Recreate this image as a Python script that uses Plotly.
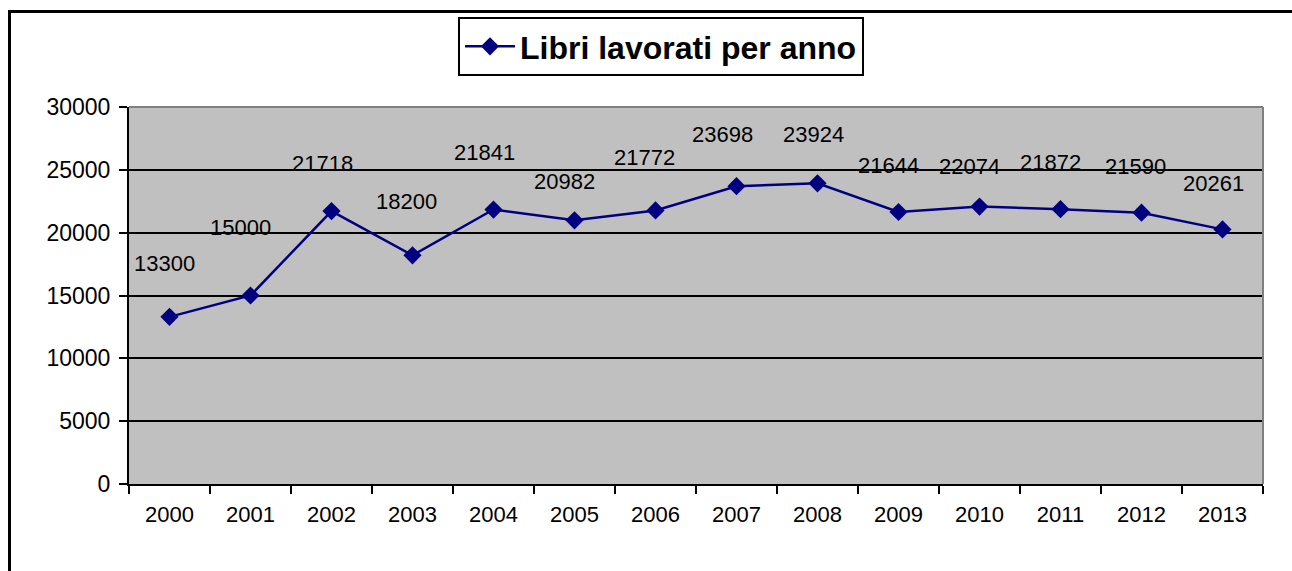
import plotly.graph_objects as go

years = ["2000", "2001", "2002", "2003", "2004", "2005", "2006",
         "2007", "2008", "2009", "2010", "2011", "2012", "2013"]
libri = [13300, 15000, 21718, 18200, 21841, 20982, 21772,
         23698, 23924, 21644, 22074, 21872, 21590, 20261]
y_ticks = [0, 5000, 10000, 15000, 20000, 25000, 30000]
series_name = "Libri lavorati per anno"

# label placement offsets (pixels, style only)
label_dx = [-5, -10, -9, -6, -9, -10, -11, -14, -4, -10, -10, -10, -6, -9]
label_dy = [53, 68, 48, 54, 57, 39, 53, 52, 49, 47, 40, 47, 46, 46]

FONT = "Liberation Sans, Arial, sans-serif"
W, H = 1292, 571
L, R, T, B = 129, 1263, 107, 484

def px(x):
    return (x - L) / (R - L)

def py(y):
    return (B - y) / (B - T)

fig = go.Figure()
fig.add_trace(go.Scatter(
    x=years, y=libri, name=series_name, mode="lines+markers",
    line=dict(color="#000080", width=2.5),
    marker=dict(symbol="diamond", size=14, color="#000080"),
    showlegend=True,
))

annotations = []
for i, v in enumerate(libri):
    annotations.append(dict(
        x=i, y=v, xref="x", yref="y", text=str(v), showarrow=False,
        xshift=label_dx[i], yshift=label_dy[i],
        font=dict(family=FONT, size=22, color="black"),
    ))

shapes = [
    dict(type="line", xref="paper", yref="paper", x0=0, x1=1, y0=1, y1=1,
         line=dict(color="#808080", width=2), layer="above"),
    dict(type="line", xref="paper", yref="paper", x0=1, x1=1, y0=0, y1=1,
         line=dict(color="#808080", width=2), layer="above"),
    dict(type="line", xref="paper", yref="paper", x0=px(9.5), x1=px(9.5),
         y0=py(11), y1=py(W), line=dict(color="black", width=3)),
    dict(type="line", xref="paper", yref="paper", x0=px(8), x1=px(1400),
         y0=py(11.5), y1=py(11.5), line=dict(color="black", width=3)),
]

fig.update_layout(
    width=W, height=H, autosize=False,
    margin=dict(l=L, r=W - R, t=T, b=H - B, pad=0),
    paper_bgcolor="white", plot_bgcolor="#C0C0C0",
    font=dict(family=FONT, color="black"),
    showlegend=True,
    legend=dict(
        x=px(661), y=py(17), xanchor="center", yanchor="top",
        orientation="h",
        bgcolor="white", bordercolor="black", borderwidth=2,
        font=dict(family=FONT, size=32, color="black", weight="bold"),
        itemwidth=50,
    ),
    xaxis=dict(
        type="category", tickson="boundaries", ticks="outside", ticklen=8,
        tickwidth=2, tickcolor="black", showline=True, linecolor="black",
        linewidth=2, showgrid=False, tickfont=dict(family=FONT, size=22),
        range=[-0.5, len(years) - 0.5], zeroline=False,
        ticklabelstandoff=10,
    ),
    yaxis=dict(
        range=[0, 30000], tickvals=y_ticks, ticktext=[str(v) for v in y_ticks],
        ticks="outside", ticklen=8,
        tickwidth=2, tickcolor="black", showline=True, linecolor="black",
        linewidth=2, showgrid=True, gridcolor="black", gridwidth=2,
        tickfont=dict(family=FONT, size=23), zeroline=False,
        ticklabelstandoff=4,
    ),
    annotations=annotations,
    shapes=shapes,
)

fig.write_html("out.html", config={"displayModeBar": False},
               post_script="document.body.style.margin='0';")
